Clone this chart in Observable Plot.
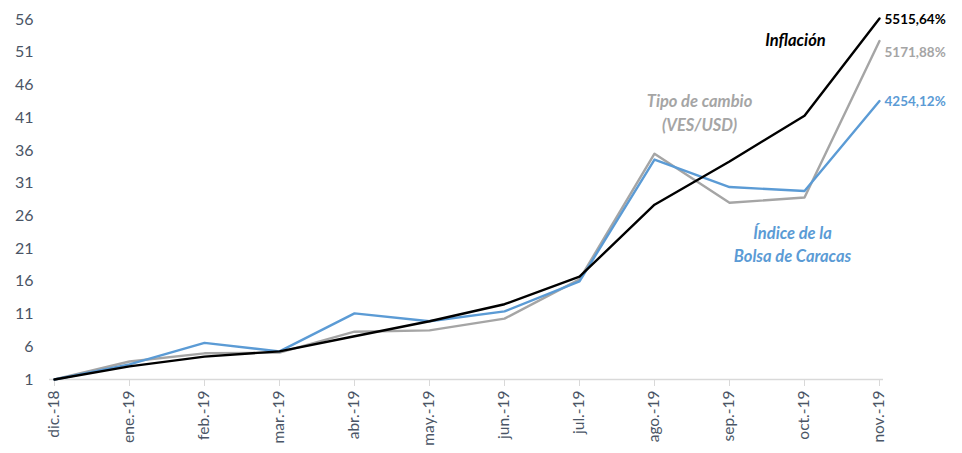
<!DOCTYPE html>
<html>
<head>
<meta charset="utf-8">
<script src="https://cdn.jsdelivr.net/npm/d3@7"></script>
<script src="https://cdn.jsdelivr.net/npm/@observablehq/plot@0.6"></script>
<style>
  body { margin: 0; background: #fff; }
  #chart svg { display: block; }
</style>
</head>
<body>
<div id="chart"></div>
<script>
const months = ["dic.-18","ene.-19","feb.-19","mar.-19","abr.-19","may.-19","jun.-19","jul.-19","ago.-19","sep.-19","oct.-19","nov.-19"];
const inflacion = [1, 3.0, 4.5, 5.3, 7.6, 9.9, 12.5, 16.7, 27.7, 34.3, 41.3, 56.16];
const tipoCambio = [1, 3.75, 5.0, 5.1, 8.3, 8.5, 10.3, 16.3, 35.5, 28.0, 28.8, 52.72];
const indiceBolsa = [1, 3.3, 6.6, 5.3, 11.1, 9.9, 11.4, 16.0, 34.6, 30.4, 29.8, 43.54];
const yTicks = [1, 6, 11, 16, 21, 26, 31, 36, 41, 46, 51, 56];
const endLabels = ["5515,64%", "5171,88%", "4254,12%"];

const BLACK = "#000000", GRAY = "#A5A5A5", BLUE = "#5B9BD5";

const seriesDefs = [
  {name: "Tipo de cambio", values: tipoCambio, color: GRAY},
  {name: "Índice", values: indiceBolsa, color: BLUE},
  {name: "Inflación", values: inflacion, color: BLACK}
];
const rows = seriesDefs.flatMap(s => s.values.map((v, i) => ({serie: s.name, month: months[i], value: v, color: s.color})));

const last = months[months.length - 1];
const font = "Lato, 'Open Sans', sans-serif";
const axisColor = "#4a5566";

const endLabel = (label, value, color, dy) =>
  Plot.text([{label, month: last, value}], {x: "month", y: "value", text: "label", fill: color, dx: 5, dy, textAnchor: "start", fontWeight: "bold", fontSize: 13.5});

const note = (lines, month, values, color, dx) =>
  Plot.text(lines.map((t, i) => ({t, month, value: values[i]})), {x: "month", y: "value", text: "t", fill: color, dx, fontWeight: "bold", fontStyle: "italic", fontSize: 16.5});

const chart = Plot.plot({
  width: 962,
  height: 453,
  marginLeft: 49,
  marginRight: 79,
  marginTop: 19,
  marginBottom: 74,
  style: {fontFamily: font, background: "#fff"},
  x: {type: "point", domain: months, padding: 0},
  y: {domain: [1, 56]},
  marks: [
    Plot.ruleY([1], {stroke: "#d9d9d9", strokeWidth: 1.5}),
    Plot.axisX({tickRotate: -90, tickSize: 7, tickPadding: 4, stroke: "#d9d9d9", fill: axisColor, fontSize: 15.5, label: null}),
    Plot.axisY({ticks: yTicks, tickSize: 0, tickPadding: 16, fill: axisColor, fontSize: 16, label: null}),
    Plot.line(rows, {x: "month", y: "value", z: "serie", stroke: "color", strokeWidth: 2.4}),
    endLabel(endLabels[0], inflacion[11], BLACK, 1),
    endLabel(endLabels[1], tipoCambio[11], GRAY, 12),
    endLabel(endLabels[2], indiceBolsa[11], BLUE, 1),
    note(["Inflación"], "oct.-19", [52.7], BLACK, -9),
    note(["Tipo de cambio", "(VES/USD)"], "ago.-19", [43.4, 39.8], GRAY, 45),
    note(["Índice de la", "Bolsa de Caracas"], "oct.-19", [23.2, 19.7], BLUE, -12)
  ]
});

document.getElementById("chart").append(chart);
</script>
</body>
</html>
